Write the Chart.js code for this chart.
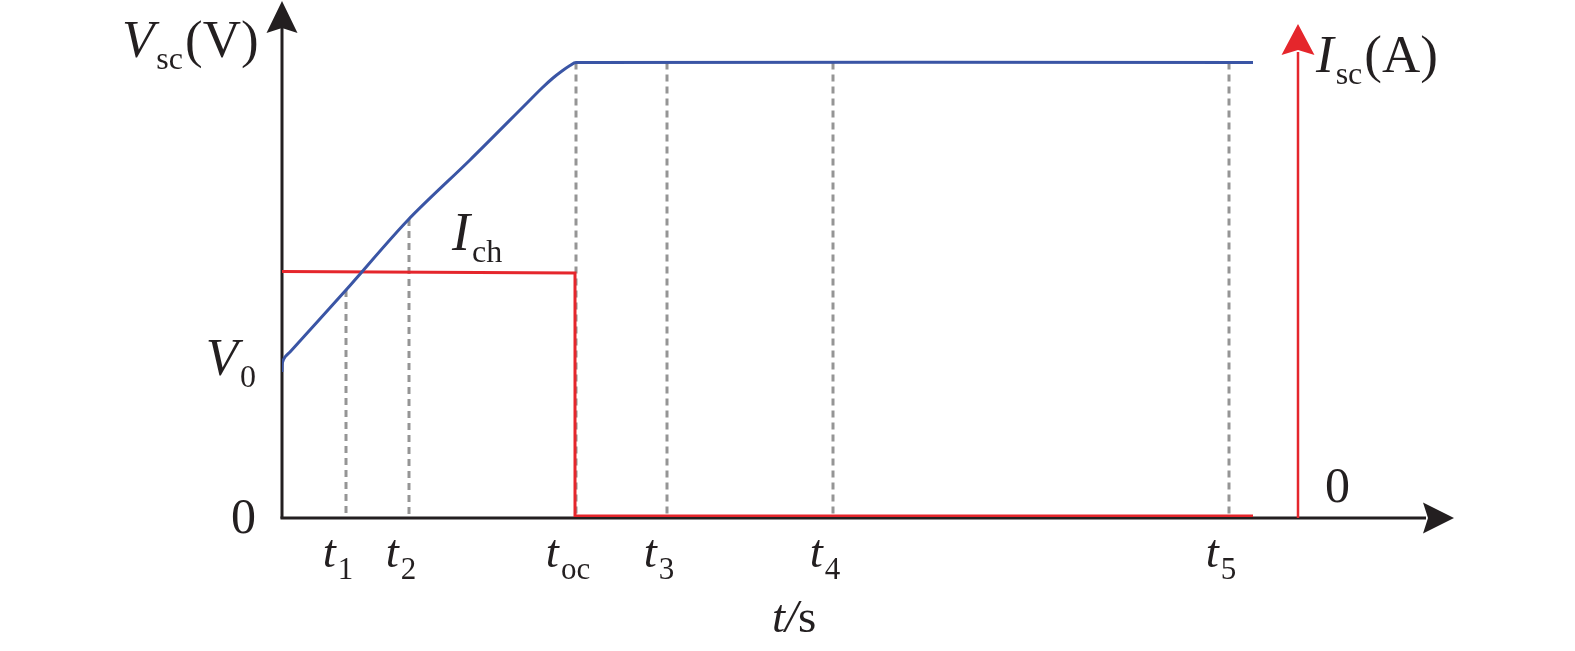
<!DOCTYPE html>
<html>
<head>
<meta charset="utf-8">
<script src="https://cdn.jsdelivr.net/npm/chart.js@4/dist/chart.umd.min.js"></script>
<style>
  html, body { margin: 0; padding: 0; background: #ffffff; }
  #wrap { width: 1575px; height: 651px; position: relative; }
</style>
</head>
<body>
<div id="wrap"><canvas id="chart"></canvas></div>
<script>
// time axis in arbitrary units (t/s), voltage / current in arbitrary units
var vscT = [0, 0.03, 0.3, 0.8, 6.4, 12.6, 18.8, 24.5, 26.0, 27.1, 28.0, 28.8, 29.4, 97.1];
var vscV = [14.5, 15.4, 16.0, 16.5, 22.7, 29.7, 35.7, 41.4, 42.9, 43.9, 44.6, 45.15, 45.45, 45.45];
var iscT = [0, 29.3, 29.3, 97.1];
var iscI = [24.55, 24.4, 0.1, 0.1];
var markT = [6.4, 12.7, 29.4, 38.5, 55.1, 94.7];
var markTop = [22.7, 29.8, 45.45, 45.45, 45.45, 45.45];
var markSub = ['1', '2', 'oc', '3', '4', '5'];
var v0 = 14.5;
var iAxisT = 101.6;
var xMax = 117.2;
var yMax = 51.7;

var BLUE = '#3a55a5';
var RED = '#e5262c';
var BLACK = '#231f20';
var GREY = '#959595';
var SERIF = '"Liberation Serif", "Times New Roman", serif';

function pts(xs, ys) {
    return xs.map(function (x, i) { return { x: x, y: ys[i] }; });
}

var datasets = [
    { label: 'Vsc', data: pts(vscT, vscV), borderColor: BLUE, borderWidth: 3, pointRadius: 0, tension: 0.3, borderJoinStyle: 'round', yAxisID: 'y' },
    { label: 'Isc', data: pts(iscT, iscI), borderColor: RED, borderWidth: 3, pointRadius: 0, tension: 0, yAxisID: 'yI' }
];
markT.forEach(function (t, i) {
    datasets.push({
        label: 't' + markSub[i],
        data: [{ x: t, y: markTop[i] }, { x: t, y: 0 }],
        borderColor: GREY, borderWidth: 3, borderDash: [7, 5], pointRadius: 0, tension: 0, yAxisID: 'y'
    });
});

function arrow(ctx, tipX, tipY, dir, len, half, color) {
    // dir: 'up' or 'right'
    ctx.save();
    ctx.fillStyle = color;
    ctx.beginPath();
    if (dir === 'up') {
        ctx.moveTo(tipX, tipY);
        ctx.lineTo(tipX - half, tipY + len);
        ctx.lineTo(tipX, tipY + len - 5);
        ctx.lineTo(tipX + half, tipY + len);
    } else {
        ctx.moveTo(tipX, tipY);
        ctx.lineTo(tipX - len, tipY - half);
        ctx.lineTo(tipX - len + 5, tipY);
        ctx.lineTo(tipX - len, tipY + half);
    }
    ctx.closePath();
    ctx.fill();
    ctx.restore();
}

function line(ctx, x1, y1, x2, y2, color, w) {
    ctx.save();
    ctx.strokeStyle = color;
    ctx.lineWidth = w;
    ctx.beginPath();
    ctx.moveTo(x1, y1);
    ctx.lineTo(x2, y2);
    ctx.stroke();
    ctx.restore();
}

// italic main letter, upright subscript, upright rest
function subLabel(ctx, x, y, main, sub, rest, size, subSize, align) {
    var mainFont = 'italic ' + size + 'px ' + SERIF;
    var subFont = subSize + 'px ' + SERIF;
    var restFont = size + 'px ' + SERIF;
    ctx.font = mainFont; var w1 = ctx.measureText(main).width;
    ctx.font = subFont; var w2 = ctx.measureText(sub).width;
    ctx.font = restFont; var w3 = rest ? ctx.measureText(rest).width : 0;
    var total = w1 + 2 + w2 + (rest ? 2 + w3 : 0);
    var sx = x;
    if (align === 'center') sx = x - total / 2;
    if (align === 'right') sx = x - total;
    ctx.fillStyle = BLACK;
    ctx.textBaseline = 'alphabetic';
    ctx.textAlign = 'left';
    ctx.font = mainFont; ctx.fillText(main, sx, y);
    ctx.font = subFont; ctx.fillText(sub, sx + w1 + 2, y + 12);
    if (rest) { ctx.font = restFont; ctx.fillText(rest, sx + w1 + 4 + w2, y); }
}

var axesPlugin = {
    id: 'axesPlugin',
    beforeDatasetsDraw: function (chart) {
        var ctx = chart.ctx, xs = chart.scales.x, ys = chart.scales.y;
        var x0 = xs.getPixelForValue(0), y0 = ys.getPixelForValue(0);
        var xEnd = xs.getPixelForValue(xMax), yTop = ys.getPixelForValue(yMax);
        // vertical V axis
        line(ctx, x0, y0 + 1.5, x0, yTop + 28, BLACK, 3);
        arrow(ctx, x0, yTop + 1, 'up', 32, 15.5, BLACK);
        // time axis
        line(ctx, x0 - 1.5, y0 + 1, xEnd - 28, y0 + 1, BLACK, 3);
        arrow(ctx, xEnd, y0 + 1, 'right', 31, 15.5, BLACK);
        // current axis (red)
        var xi = xs.getPixelForValue(iAxisT);
        line(ctx, xi, y0 + 1, xi, 52, RED, 2.5);
        arrow(ctx, xi, 24, 'up', 31, 16.5, RED);
    },
    afterDraw: function (chart) {
        var ctx = chart.ctx, xs = chart.scales.x, ys = chart.scales.y;
        var x0 = xs.getPixelForValue(0), y0 = ys.getPixelForValue(0);
        ctx.save();
        // axis titles
        subLabel(ctx, 122, 57, 'V', 'sc', '(V)', 53, 32, 'left');
        subLabel(ctx, 1316, 72, 'I', 'sc', '(A)', 53, 32, 'left');
        // V0 and zeros
        subLabel(ctx, x0 - 26, ys.getPixelForValue(v0) + 3, 'V', '0', '', 53, 32, 'right');
        ctx.font = '50px ' + SERIF;
        ctx.fillStyle = BLACK;
        ctx.textAlign = 'right';
        ctx.fillText('0', x0 - 26, y0 + 16);
        ctx.textAlign = 'left';
        ctx.fillText('0', xs.getPixelForValue(iAxisT) + 27, y0 - 15);
        // I_ch
        subLabel(ctx, 452, ys.getPixelForValue(iscI[0]) - 22, 'I', 'ch', '', 54, 32, 'left');
        // time marks
        markT.forEach(function (t, i) {
            subLabel(ctx, xs.getPixelForValue(t) - 8, 567, 't', markSub[i], '', 47, 31, 'center');
        });
        // t/s
        ctx.fillStyle = BLACK;
        ctx.textAlign = 'left';
        ctx.font = 'italic 47px ' + SERIF;
        var wt = ctx.measureText('t').width;
        ctx.fillText('t', 772, 632);
        ctx.fillText('/', 772 + wt, 632);
        var ws = ctx.measureText('/').width;
        ctx.font = '47px ' + SERIF;
        ctx.fillText('s', 772 + wt + ws, 632);
        ctx.restore();
    }
};

new Chart(document.getElementById('chart'), {
    type: 'line',
    data: { datasets: datasets },
    options: {
        responsive: true,
        maintainAspectRatio: false,
        animation: false,
        layout: { padding: { left: 282, right: 121, top: 0, bottom: 134 } },
        plugins: { legend: { display: false }, tooltip: { enabled: false } },
        scales: {
            x: { type: 'linear', min: 0, max: xMax, display: false },
            y: { type: 'linear', min: 0, max: yMax, display: false },
            yI: { type: 'linear', min: 0, max: yMax, display: false }
        }
    },
    plugins: [axesPlugin]
});
</script>
</body>
</html>
